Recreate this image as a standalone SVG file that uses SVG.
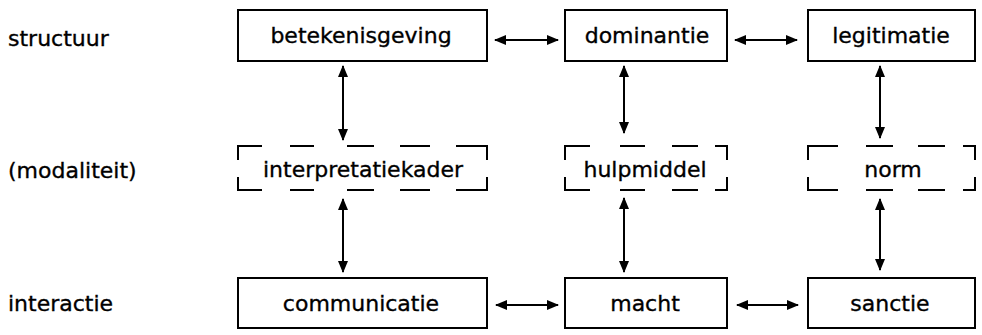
<svg xmlns="http://www.w3.org/2000/svg" width="982" height="335" viewBox="0 0 982 335">
<style>
text{font-family:"DejaVu Sans","Open Sans","Liberation Sans",sans-serif;font-size:22px;fill:#000;stroke:#000;stroke-width:0.35}
.lbl{text-anchor:start}
.c{text-anchor:middle}
.box{fill:#fff;stroke:#000;stroke-width:2}
.dash{fill:none;stroke:#000;stroke-width:2}
.con{fill:none;stroke:#000;stroke-width:2;marker-start:url(#ah);marker-end:url(#ah)}
</style>
<defs>
<marker id="ah" viewBox="0 0 12 12" refX="11" refY="6" markerWidth="12" markerHeight="12" markerUnits="userSpaceOnUse" orient="auto-start-reverse">
<path d="M0,1 L12,6 L0,11 Z" fill="#000"/>
</marker>
</defs>
<rect width="982" height="335" fill="#fff"/>
<g id="row-labels">
<text class="lbl" x="8" y="46">structuur</text>
<text class="lbl" x="8" y="178">(modaliteit)</text>
<text class="lbl" x="8" y="311">interactie</text>
</g>
<g id="connectors">
<line class="con" x1="495" y1="40" x2="558" y2="40"/>
<line class="con" x1="735" y1="40" x2="797" y2="40"/>
<line class="con" x1="496" y1="305" x2="558" y2="305"/>
<line class="con" x1="737" y1="305" x2="798" y2="305"/>
<line class="con" x1="343" y1="66" x2="343" y2="140"/>
<line class="con" x1="343" y1="199" x2="343" y2="272"/>
<line class="con" x1="624" y1="66" x2="624" y2="133"/>
<line class="con" x1="624" y1="198" x2="624" y2="272"/>
<line class="con" x1="880" y1="66" x2="880" y2="138"/>
<line class="con" x1="880" y1="199" x2="880" y2="270"/>
</g>
<g id="betekenisgeving">
<rect class="box" x="238" y="10" width="249" height="51"/>
<text class="c" x="361" y="43">betekenisgeving</text>
</g>
<g id="dominantie">
<rect class="box" x="565" y="10" width="162" height="51"/>
<text class="c" x="647" y="43">dominantie</text>
</g>
<g id="legitimatie">
<rect class="box" x="808" y="10" width="167" height="51"/>
<text class="c" x="891" y="43">legitimatie</text>
</g>
<g id="interpretatiekader">
<path class="dash" d="M262,146 H238 V160 M238,177 V190 H262 M290,146 H314 M290,190 H314 M347,146 H374 M347,190 H374 M400,146 H430 M400,190 H430 M456,146 H487 V160 M487,177 V190 H456"/>
<text class="c" x="363" y="177">interpretatiekader</text>
</g>
<g id="hulpmiddel">
<path class="dash" d="M590,146 H565 V160 M565,177 V190 H590 M620,146 H645 M620,190 H645 M672,146 H698 M672,190 H698 M715,146 H727 V160 M727,177 V190 H715"/>
<text class="c" x="645" y="177">hulpmiddel</text>
</g>
<g id="norm">
<path class="dash" d="M838,146 H808 V160 M808,177 V190 H838 M866,146 H893 M866,190 H893 M918,146 H945 M918,190 H945 M963,146 H975 V160 M975,177 V190 H963"/>
<text class="c" x="893" y="177">norm</text>
</g>
<g id="communicatie">
<rect class="box" x="238" y="278" width="249" height="50"/>
<text class="c" x="361" y="311">communicatie</text>
</g>
<g id="macht">
<rect class="box" x="565" y="278" width="162" height="50"/>
<text class="c" x="645" y="311">macht</text>
</g>
<g id="sanctie">
<rect class="box" x="808" y="278" width="167" height="50"/>
<text class="c" x="890" y="311">sanctie</text>
</g>
</svg>
